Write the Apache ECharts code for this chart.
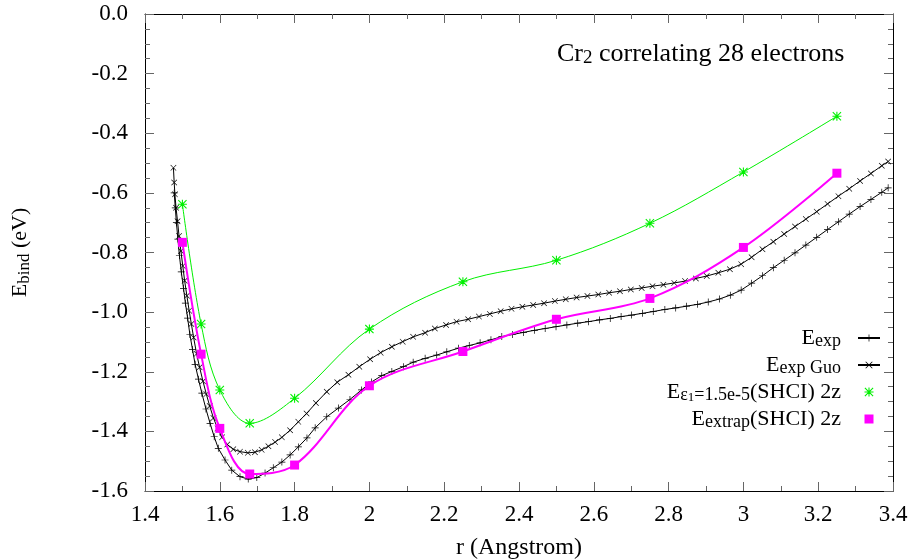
<!DOCTYPE html>
<html>
<head>
<meta charset="utf-8">
<script src="https://cdn.jsdelivr.net/npm/echarts@6/dist/echarts.min.js"></script>
<style>
html, body { margin: 0; padding: 0; background: #fff; }
#chart { width: 916px; height: 560px; }
</style>
</head>
<body>
<div id="chart"></div>
<script>
// Cr2 binding curve, 28 correlated electrons

// E_exp (+ markers)
var rExp = [1.478, 1.481, 1.484, 1.488, 1.492, 1.497, 1.503, 1.508, 1.514, 1.520, 1.527, 1.534, 1.543,
	1.552, 1.563, 1.574, 1.585, 1.596, 1.614, 1.632, 1.654, 1.676, 1.699, 1.721, 1.743, 1.766, 1.788,
	1.810, 1.833, 1.855, 1.886, 1.917, 1.948, 1.979, 2.006, 2.033, 2.060, 2.091, 2.117, 2.149, 2.180,
	2.207, 2.238, 2.267, 2.296, 2.325, 2.354, 2.383, 2.412, 2.441, 2.470, 2.499, 2.528, 2.557, 2.586,
	2.615, 2.644, 2.673, 2.701, 2.730, 2.759, 2.790, 2.819, 2.848, 2.877, 2.906, 2.936, 2.965, 2.994,
	3.022, 3.051, 3.080, 3.109, 3.138, 3.167, 3.196, 3.225, 3.254, 3.283, 3.312, 3.341, 3.370, 3.387];
var eExp = [-0.600, -0.650, -0.700, -0.755, -0.810, -0.865, -0.920, -0.970, -1.020, -1.075, -1.125, -1.175, -1.225,
	-1.272, -1.325, -1.373, -1.418, -1.457, -1.496, -1.530, -1.552, -1.560, -1.555, -1.540, -1.522, -1.503, -1.479,
	-1.452, -1.422, -1.388, -1.351, -1.322, -1.293, -1.261, -1.234, -1.213, -1.199, -1.183, -1.168, -1.155, -1.144,
	-1.133, -1.121, -1.112, -1.103, -1.093, -1.082, -1.075, -1.068, -1.061, -1.055, -1.049, -1.043, -1.037, -1.032,
	-1.026, -1.021, -1.015, -1.010, -1.004, -0.998, -0.991, -0.986, -0.980, -0.974, -0.966, -0.956, -0.943, -0.926,
	-0.903, -0.878, -0.851, -0.826, -0.801, -0.775, -0.749, -0.723, -0.697, -0.671, -0.646, -0.622, -0.598, -0.583];

// E_exp Guo (x markers)
var rGuo = [1.476, 1.478, 1.480, 1.483, 1.487, 1.491, 1.496, 1.501, 1.506, 1.512, 1.518, 1.524, 1.530,
	1.538, 1.546, 1.555, 1.564, 1.573, 1.583, 1.594, 1.606, 1.620, 1.636, 1.654, 1.675, 1.694, 1.712,
	1.730, 1.748, 1.766, 1.788, 1.810, 1.832, 1.857, 1.886, 1.914, 1.944, 1.973, 2.002, 2.030, 2.060,
	2.089, 2.117, 2.149, 2.175, 2.205, 2.233, 2.264, 2.293, 2.322, 2.351, 2.380, 2.409, 2.438, 2.467,
	2.496, 2.525, 2.554, 2.583, 2.612, 2.641, 2.670, 2.699, 2.728, 2.757, 2.786, 2.815, 2.844, 2.873,
	2.902, 2.933, 2.964, 2.994, 3.022, 3.051, 3.080, 3.109, 3.138, 3.167, 3.196, 3.225, 3.254, 3.283,
	3.312, 3.341, 3.370, 3.387];
var eGuo = [-0.516, -0.565, -0.605, -0.650, -0.695, -0.745, -0.795, -0.845, -0.895, -0.945, -0.995, -1.040, -1.085,
	-1.140, -1.185, -1.232, -1.275, -1.315, -1.355, -1.390, -1.420, -1.444, -1.460, -1.468, -1.472, -1.470, -1.462,
	-1.450, -1.436, -1.420, -1.396, -1.368, -1.340, -1.305, -1.267, -1.235, -1.210, -1.183, -1.158, -1.136, -1.116,
	-1.099, -1.083, -1.069, -1.055, -1.043, -1.032, -1.024, -1.015, -1.006, -0.997, -0.989, -0.982, -0.976, -0.970,
	-0.963, -0.957, -0.951, -0.946, -0.941, -0.935, -0.930, -0.924, -0.919, -0.913, -0.908, -0.902, -0.896, -0.887,
	-0.879, -0.868, -0.856, -0.839, -0.816, -0.789, -0.764, -0.738, -0.713, -0.688, -0.663, -0.637, -0.611, -0.586,
	-0.560, -0.535, -0.509, -0.495];

// SHCI 2z points
var rShci = [1.50, 1.55, 1.60, 1.68, 1.80, 2.00, 2.25, 2.50, 2.75, 3.00, 3.25];
var eEps = [-0.638, -1.040, -1.261, -1.373, -1.289, -1.057, -0.898, -0.826, -0.702, -0.530, -0.343];
var eExtrap = [-0.766, -1.141, -1.390, -1.543, -1.513, -1.247, -1.132, -1.024, -0.954, -0.783, -0.534];

var xTicks = [1.4, 3.4, 0.2];
var yTicks = [-1.6, 0, 0.2];

var FONT = "'Liberation Serif', 'Times New Roman', serif";

// 标记形状
var SYM_PLUS = 'path://M9,0H11V9H20V11H11V20H9V11H0V9H9Z';
var SYM_CROSS = 'path://M1.5,0L10,8.5L18.5,0L20,1.5L11.5,10L20,18.5L18.5,20L10,11.5L1.5,20L0,18.5L8.5,10L0,1.5Z';
var SYM_STAR = 'path://M8.8,0H11.2V8.8H20V11.2H11.2V20H8.8V11.2H0V8.8H8.8Z' +
	'M1.7,0L10,8.3L18.3,0L20,1.7L11.7,10L20,18.3L18.3,20L10,11.7L1.7,20L0,18.3L8.3,10L0,1.7Z';
var SYM_BOX = 'path://M0,0H10V10H0Z';

function pairs(xs, ys) {
	var out = [];
	for (var i = 0; i < xs.length; i++) {
		out.push([xs[i], ys[i]]);
	}
	return out;
}

var rich = {
	m: { fontFamily: FONT, fontSize: 22, lineHeight: 24, color: '#000' },
	s: { fontFamily: FONT, fontSize: 18, lineHeight: 10, verticalAlign: 'bottom', color: '#000' },
	ss: { fontFamily: FONT, fontSize: 13, lineHeight: 1, verticalAlign: 'bottom', color: '#000' },
	gap: { width: 12 }
};

var legendText = {
	'E_exp': '{m|E}{s|exp}{gap|}',
	'E_exp Guo': '{m|E}{s|exp Guo}{gap|}',
	'E_eps': '{m|E}{s|ε}{ss|1}{s|=1.5e-5}{m|(SHCI) 2z}{gap|}',
	'E_extrap': '{m|E}{s|extrap}{m|(SHCI) 2z}{gap|}'
};

function mirrorAxis(cfg) {
	return {
		type: 'value',
		min: cfg[0],
		max: cfg[1],
		interval: cfg[2],
		axisLine: { show: true, onZero: false, lineStyle: { color: '#000', width: 1 } },
		axisTick: { show: true, inside: true, length: 9, lineStyle: { color: '#666' } },
		minorTick: { show: true, length: 5, lineStyle: { color: '#666' } },
		axisLabel: { show: false },
		splitLine: { show: false }
	};
}

var xTop = mirrorAxis(xTicks);
xTop.position = 'top';
xTop.minorTick.splitNumber = 2;
var yRight = mirrorAxis(yTicks);
yRight.position = 'right';
yRight.minorTick.splitNumber = 4;

var myChart = echarts.init(document.getElementById('chart'), null, { renderer: 'canvas' });

var option = {
	animation: false,
	backgroundColor: '#fff',
	textStyle: { fontFamily: FONT },
	title: {
		text: '{m|Cr}{s|2}{m| correlating 28 electrons}',
		left: 552,
		top: 36,
		textStyle: {
			fontFamily: FONT,
			fontWeight: 'normal',
			rich: {
				m: { fontFamily: FONT, fontSize: 26, fontWeight: 'normal', lineHeight: 27, color: '#000' },
				s: { fontFamily: FONT, fontSize: 19, fontWeight: 'normal', lineHeight: 12, verticalAlign: 'bottom', color: '#000' }
			}
		}
	},
	legend: {
		orient: 'vertical',
		align: 'right',
		right: 35,
		top: 327,
		padding: 0,
		itemGap: 4,
		itemWidth: 22,
		itemHeight: 9,
		selectedMode: false,
		data: [
			{ name: 'E_exp' },
			{ name: 'E_exp Guo' },
			{ name: 'E_eps', icon: SYM_STAR },
			{ name: 'E_extrap', icon: SYM_BOX }
		],
		formatter: function(name) {
			return legendText[name];
		},
		textStyle: { fontFamily: FONT, rich: rich }
	},
	grid: { left: 145, right: 23, top: 14, bottom: 69, containLabel: false, outerBoundsMode: 'none' },
	xAxis: [{
		type: 'value',
		min: xTicks[0],
		max: xTicks[1],
		interval: xTicks[2],
		position: 'bottom',
		name: 'r (Angstrom)',
		nameLocation: 'middle',
		nameGap: 45,
		nameTextStyle: { fontFamily: FONT, fontSize: 24, color: '#000' },
		axisLine: { onZero: false, lineStyle: { color: '#000', width: 1 } },
		axisTick: { inside: true, length: 9, lineStyle: { color: '#666' } },
		minorTick: { show: true, splitNumber: 2, length: 5, lineStyle: { color: '#666' } },
		splitLine: { show: false },
		axisLabel: { fontFamily: FONT, fontSize: 23, color: '#000', margin: 12 }
	}, xTop],
	yAxis: [{
		type: 'value',
		min: yTicks[0],
		max: yTicks[1],
		interval: yTicks[2],
		position: 'left',
		name: '{m|E}{s|bind}{m| (eV)}',
		nameLocation: 'middle',
		nameGap: 112,
		nameTextStyle: {
			fontFamily: FONT,
			rich: {
				m: { fontFamily: FONT, fontSize: 22, lineHeight: 26, color: '#000' },
				s: { fontFamily: FONT, fontSize: 17, lineHeight: 10, verticalAlign: 'bottom', color: '#000' }
			}
		},
		axisLine: { onZero: false, lineStyle: { color: '#000', width: 1 } },
		axisTick: { inside: true, length: 9, lineStyle: { color: '#666' } },
		minorTick: { show: true, splitNumber: 4, length: 5, lineStyle: { color: '#666' } },
		splitLine: { show: false },
		axisLabel: {
			fontFamily: FONT, fontSize: 23, color: '#000', margin: 17,
			formatter: function(v) { return v.toFixed(1); }
		}
	}, yRight],
	series: [{
		name: 'E_exp',
		type: 'line',
		data: pairs(rExp, eExp),
		symbol: SYM_PLUS,
		symbolSize: 7,
		showAllSymbol: true,
		color: '#000',
		lineStyle: { color: '#000', width: 1 },
		itemStyle: { color: '#000' },
		z: 3
	}, {
		name: 'E_exp Guo',
		type: 'line',
		data: pairs(rGuo, eGuo),
		symbol: SYM_CROSS,
		symbolSize: 6,
		showAllSymbol: true,
		color: '#000',
		lineStyle: { color: '#000', width: 1 },
		itemStyle: { color: '#000' },
		z: 3
	}, {
		name: 'E_eps',
		type: 'line',
		data: pairs(rShci, eEps),
		smooth: 0.35,
		symbol: SYM_STAR,
		symbolSize: 9,
		showAllSymbol: true,
		color: '#00f000',
		lineStyle: { color: '#00f000', width: 1 },
		itemStyle: { color: '#00f000' },
		z: 4
	}, {
		name: 'E_extrap',
		type: 'line',
		data: pairs(rShci, eExtrap),
		smooth: 0.35,
		symbol: 'rect',
		symbolSize: 9,
		showAllSymbol: true,
		color: '#ff00ff',
		lineStyle: { color: '#ff00ff', width: 2 },
		itemStyle: { color: '#ff00ff' },
		z: 5
	}]
};

myChart.setOption(option);
</script>
</body>
</html>
